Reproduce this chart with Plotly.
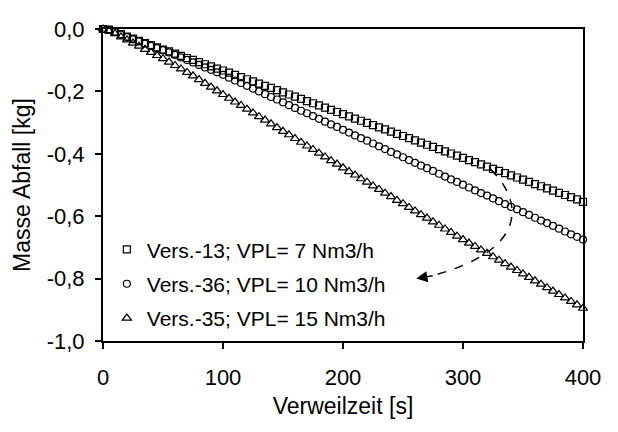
import plotly.graph_objects as go

# ---------------- data ----------------
time_s = [0, 5, 10, 15, 20, 25, 30, 35, 40, 45, 50, 55, 60, 65, 70, 75, 80, 85, 90, 95,
          100, 105, 110, 115, 120, 125, 130, 135, 140, 145, 150, 155, 160, 165, 170, 175,
          180, 185, 190, 195, 200, 205, 210, 215, 220, 225, 230, 235, 240, 245, 250, 255,
          260, 265, 270, 275, 280, 285, 290, 295, 300, 305, 310, 315, 320, 325, 330, 335,
          340, 345, 350, 355, 360, 365, 370, 375, 380, 385, 390, 395, 400]

vers13 = [0.000, -0.002, -0.008, -0.016, -0.024, -0.031, -0.038, -0.045, -0.052, -0.059,
          -0.066, -0.072, -0.079, -0.086, -0.093, -0.099, -0.106, -0.113, -0.120, -0.127,
          -0.133, -0.140, -0.147, -0.154, -0.161, -0.168, -0.175, -0.182, -0.189, -0.196,
          -0.203, -0.210, -0.217, -0.224, -0.231, -0.238, -0.245, -0.252, -0.259, -0.266,
          -0.273, -0.280, -0.287, -0.294, -0.301, -0.308, -0.315, -0.322, -0.329, -0.336,
          -0.343, -0.350, -0.357, -0.364, -0.371, -0.378, -0.385, -0.392, -0.399, -0.406,
          -0.413, -0.420, -0.427, -0.434, -0.441, -0.448, -0.455, -0.462, -0.469, -0.476,
          -0.483, -0.490, -0.497, -0.504, -0.511, -0.518, -0.525, -0.532, -0.539, -0.546,
          -0.554]

vers36 = [0.000, -0.003, -0.010, -0.018, -0.026, -0.033, -0.040, -0.047, -0.054, -0.061,
          -0.068, -0.075, -0.083, -0.091, -0.099, -0.107, -0.115, -0.123, -0.131, -0.139,
          -0.147, -0.156, -0.165, -0.173, -0.182, -0.191, -0.200, -0.209, -0.218, -0.226,
          -0.235, -0.244, -0.253, -0.262, -0.270, -0.279, -0.288, -0.297, -0.306, -0.314,
          -0.323, -0.332, -0.341, -0.350, -0.358, -0.367, -0.376, -0.385, -0.394, -0.402,
          -0.411, -0.420, -0.429, -0.438, -0.446, -0.455, -0.464, -0.473, -0.482, -0.490,
          -0.499, -0.508, -0.517, -0.526, -0.534, -0.543, -0.552, -0.561, -0.570, -0.578,
          -0.587, -0.596, -0.605, -0.614, -0.622, -0.631, -0.640, -0.649, -0.658, -0.666,
          -0.675]

vers35 = [0.000, -0.006, -0.015, -0.025, -0.035, -0.045, -0.055, -0.065, -0.075, -0.085,
          -0.095, -0.106, -0.117, -0.128, -0.139, -0.150, -0.162, -0.174, -0.186, -0.198,
          -0.210, -0.222, -0.234, -0.245, -0.257, -0.269, -0.281, -0.292, -0.304, -0.316,
          -0.328, -0.339, -0.351, -0.363, -0.375, -0.386, -0.398, -0.410, -0.422, -0.433,
          -0.445, -0.457, -0.468, -0.480, -0.491, -0.503, -0.514, -0.526, -0.537, -0.549,
          -0.560, -0.572, -0.583, -0.595, -0.606, -0.618, -0.629, -0.641, -0.652, -0.664,
          -0.675, -0.686, -0.697, -0.708, -0.719, -0.730, -0.741, -0.752, -0.763, -0.774,
          -0.785, -0.796, -0.807, -0.818, -0.829, -0.840, -0.851, -0.862, -0.873, -0.884,
          -0.895]

series_names = ["Vers.-13; VPL= 7 Nm3/h", "Vers.-36; VPL= 10 Nm3/h", "Vers.-35; VPL= 15 Nm3/h"]

x_tickvals = [0, 100, 200, 300, 400]
x_ticktext = ["0", "100", "200", "300", "400"]
y_tickvals = [0, -0.2, -0.4, -0.6, -0.8, -1.0]
y_ticktext = ["0,0", "-0,2", "-0,4", "-0,6", "-0,8", "-1,0"]

# ---------------- figure ----------------
FONT = "Liberation Sans, Arial, sans-serif"
symbols = ["square-open", "circle-open", "triangle-up-open"]
sizes = [7, 7, 8]

fig = go.Figure()
for i, (ys, name) in enumerate(zip([vers13, vers36, vers35], series_names)):
    fig.add_trace(go.Scatter(
        x=time_s, y=ys, name=name, mode="markers", legendgroup=f"g{i}",
        marker=dict(symbol=symbols[i], size=sizes[i], color="black",
                    line=dict(color="black", width=1.2)),
        cliponaxis=False,
    ))

# curved dashed arrow (decoration)
fig.add_shape(type="path", xref="x", yref="y",
              path="M 323,-0.45 C 350,-0.55 356,-0.71 272,-0.793",
              line=dict(color="black", width=1.5, dash="dash"))
fig.add_annotation(x=261, y=-0.80, ax=276, ay=-0.79, xref="x", yref="y",
                   axref="x", ayref="y", text="", showarrow=True,
                   arrowhead=2, arrowsize=1.5, arrowwidth=1.5, arrowcolor="black")

# page body has an 8px default margin, so the figure is sized/margined to compensate
fig.update_layout(
    width=602, height=416,
    margin=dict(l=95, r=12, t=9, b=69),
    paper_bgcolor="white", plot_bgcolor="white",
    font=dict(family=FONT, size=22, color="black"),
    showlegend=True,
    legend=dict(x=0.008, y=0.358, xanchor="left", yanchor="top",
                bgcolor="rgba(0,0,0,0)", font=dict(size=21, family=FONT),
                tracegroupgap=4, itemwidth=30),
)
fig.update_xaxes(range=[0, 400], tickvals=x_tickvals, ticktext=x_ticktext,
                 showgrid=False, zeroline=False, showline=True, linecolor="black",
                 linewidth=2, mirror=True, ticks="outside", ticklen=6, tickwidth=2,
                 tickcolor="black", ticklabelstandoff=10, ticklabeloverflow="allow",
                 tickfont=dict(size=22),
                 title=dict(text="Verweilzeit [s]", font=dict(size=23), standoff=8))
fig.update_yaxes(range=[-1.0, 0], tickvals=y_tickvals, ticktext=y_ticktext,
                 showgrid=False, zeroline=False, showline=True, linecolor="black",
                 linewidth=2, mirror=True, ticks="outside", ticklen=6, tickwidth=2,
                 tickcolor="black", ticklabelstandoff=6, ticklabeloverflow="allow",
                 tickfont=dict(size=22),
                 title=dict(text="Masse Abfall [kg]", font=dict(size=23), standoff=10))

fig.write_html("out.html")
